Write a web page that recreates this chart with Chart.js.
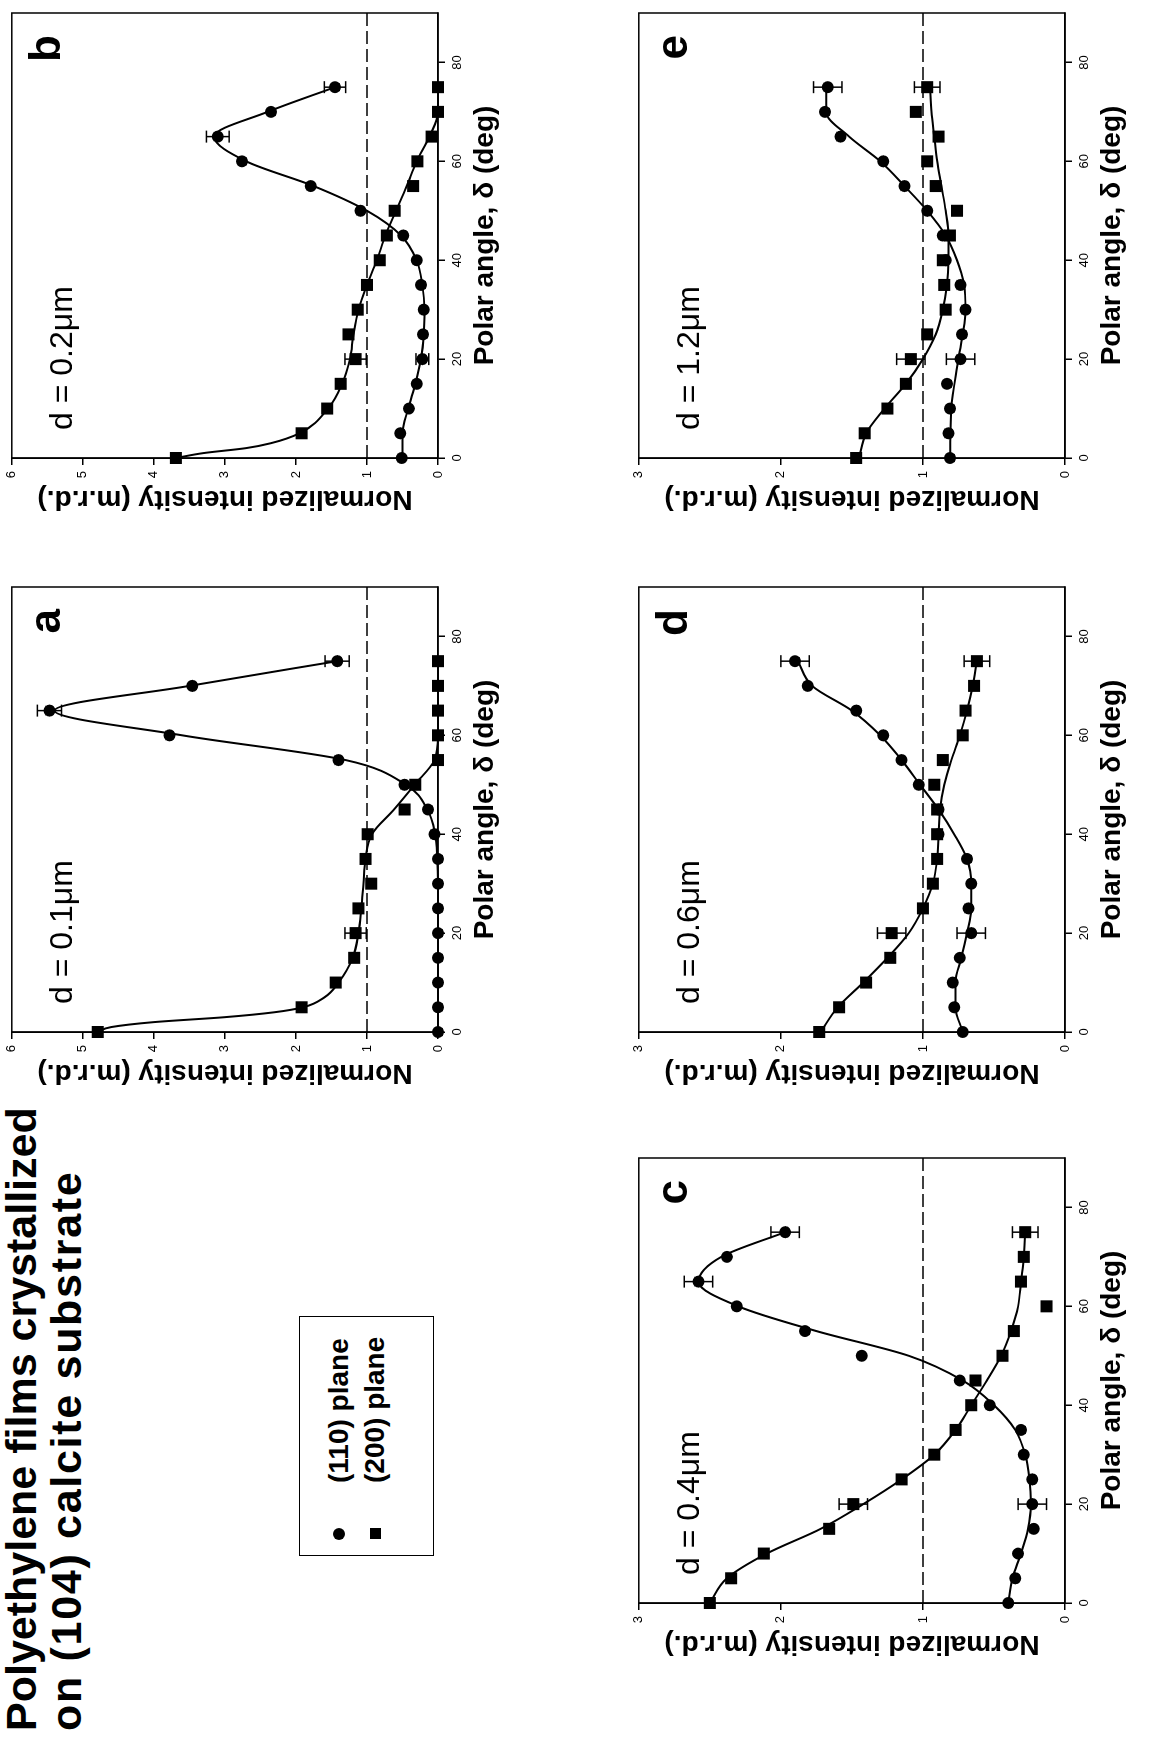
<!DOCTYPE html>
<html>
<head>
<meta charset="utf-8">
<script src="https://cdn.jsdelivr.net/npm/chart.js@4.4.0/dist/chart.umd.min.js"></script>
<style>
body { margin: 0; background: #fff; width: 1156px; height: 1737px; overflow: hidden; }
#fig { position: absolute; left: 0; top: 0; width: 1737px; height: 1156px; background: #fff;
       transform-origin: 0 0; transform: translate(0px, 1737px) rotate(-90deg);
       font-family: "Liberation Sans", Arial, sans-serif; color: #000; }
#titulo { position: absolute; left: 6px; top: -1px; font-size: 43px; font-weight: bold; line-height: 45px; white-space: nowrap; }
#titulo .l2 { letter-spacing: 1.7px; }
#legenda { position: absolute; left: 181px; top: 299px; width: 238px; height: 133px; border: 1.5px solid #000; }
#legenda .item { position: absolute; left: 72px; font-size: 28px; font-weight: bold; line-height: 30px; white-space: nowrap; }
#legenda .bola { position: absolute; left: 15px; width: 12px; height: 12px; border-radius: 50%; background: #000; }
#legenda .quad { position: absolute; left: 16px; width: 11px; height: 11px; background: #000; }
canvas { position: absolute; }
</style>
</head>
<body>
<div id="fig">
  <div id="titulo">Polyethylene films crystallized<br><span class="l2">on (104) calcite substrate</span></div>
  <div id="legenda">
    <span class="bola" style="top:33px"></span><div class="item" style="top:24px">(110) plane</div>
    <span class="quad" style="top:70px"></span><div class="item" style="top:60px">(200) plane</div>
  </div>
  <canvas id="gA" width="515" height="504" style="left:647px;top:-2px"></canvas>
  <canvas id="gB" width="515" height="504" style="left:1221px;top:-2px"></canvas>
  <canvas id="gC" width="515" height="504" style="left:76px;top:625px"></canvas>
  <canvas id="gD" width="515" height="504" style="left:647px;top:625px"></canvas>
  <canvas id="gE" width="515" height="504" style="left:1221px;top:625px"></canvas>
</div>
<script>
var fonte = '"Liberation Sans", Arial, sans-serif';

// polar angles of the measured points (deg)
var angles = [0, 5, 10, 15, 20, 25, 30, 35, 40, 45, 50, 55, 60, 65, 70, 75];
var xTicks = [0, 20, 40, 60, 80];
var refAngles = [0, 90];
var refLevel = [1, 1];

// a : d = 0.1 um
var a110 = [0, 0, 0, 0, 0, 0, 0, 0, 0.05, 0.14, 0.47, 1.40, 3.78, 5.47, 3.46, 1.42];
var a200 = [4.79, 1.92, 1.44, 1.18, 1.16, 1.12, 0.94, 1.02, 0.99, 0.47, 0.32, 0, 0, 0, 0, 0];
var a110Fit = [[0, 0], [10, 0], [20, 0], [30, 0], [35, 0.01], [40, 0.04], [45, 0.15], [50, 0.45], [55, 1.3], [60, 3.6], [65, 5.4], [70, 3.5], [75, 1.42]];
var a200Fit = [[0, 4.8], [1, 4.6], [2, 4.0], [3, 3.0], [4, 2.3], [5, 1.9], [7, 1.6], [10, 1.4], [15, 1.2], [20, 1.12], [25, 1.08], [30, 1.05], [35, 1.02], [40, 0.93], [45, 0.62], [50, 0.33], [55, 0.05], [60, 0], [75, 0]];
var aErr = [[65, 5.47, 0.17], [75, 1.42, 0.17], [20, 1.16, 0.15]];

// b : d = 0.2 um
var b110 = [0.51, 0.53, 0.41, 0.30, 0.22, 0.21, 0.20, 0.24, 0.30, 0.49, 1.09, 1.79, 2.76, 3.10, 2.35, 1.45];
var b200 = [3.69, 1.92, 1.56, 1.37, 1.16, 1.26, 1.13, 1.00, 0.82, 0.72, 0.61, 0.35, 0.29, 0.09, 0, 0];
var b110Fit = [[0, 0.5], [5, 0.5], [10, 0.42], [15, 0.32], [20, 0.24], [25, 0.2], [30, 0.19], [35, 0.22], [40, 0.3], [45, 0.52], [50, 1.0], [55, 1.75], [60, 2.7], [65, 3.15], [70, 2.4], [75, 1.45]];
var b200Fit = [[0, 3.69], [1, 3.3], [2, 2.7], [3, 2.35], [5, 1.95], [10, 1.55], [15, 1.35], [20, 1.24], [25, 1.19], [30, 1.12], [35, 1.0], [40, 0.86], [45, 0.74], [50, 0.59], [55, 0.44], [60, 0.3], [65, 0.12], [70, 0], [75, 0]];
var bErr = [[20, 0.22, 0.09], [65, 3.10, 0.16], [75, 1.45, 0.15], [20, 1.16, 0.15]];

// c : d = 0.4 um
var c110 = [0.40, 0.35, 0.33, 0.22, 0.23, 0.23, 0.29, 0.31, 0.53, 0.74, 1.43, 1.83, 2.31, 2.58, 2.38, 1.97];
var c200 = [2.50, 2.35, 2.12, 1.66, 1.49, 1.15, 0.92, 0.77, 0.66, 0.63, 0.44, 0.36, 0.13, 0.31, 0.29, 0.28];
var c110Fit = [[0, 0.4], [5, 0.37], [10, 0.31], [15, 0.26], [20, 0.24], [25, 0.25], [30, 0.28], [35, 0.35], [40, 0.5], [45, 0.72], [50, 1.1], [55, 1.75], [60, 2.3], [65, 2.58], [70, 2.42], [75, 1.97]];
var c200Fit = [[0, 2.5], [5, 2.38], [10, 2.1], [15, 1.72], [20, 1.42], [25, 1.15], [30, 0.92], [35, 0.77], [40, 0.66], [45, 0.55], [50, 0.45], [55, 0.38], [60, 0.33], [65, 0.31], [70, 0.29], [75, 0.28]];
var cErr = [[20, 0.23, 0.1], [65, 2.58, 0.1], [75, 1.97, 0.1], [20, 1.49, 0.1], [75, 0.28, 0.09]];

// d : d = 0.6 um
var d110 = [0.72, 0.78, 0.79, 0.74, 0.66, 0.68, 0.66, 0.69, 0.89, 0.89, 1.03, 1.15, 1.28, 1.47, 1.81, 1.90];
var d200 = [1.73, 1.59, 1.40, 1.23, 1.22, 1.00, 0.93, 0.90, 0.90, 0.90, 0.92, 0.86, 0.72, 0.70, 0.64, 0.62];
var d110Fit = [[0, 0.72], [5, 0.77], [10, 0.77], [15, 0.73], [20, 0.69], [25, 0.66], [30, 0.66], [35, 0.69], [40, 0.78], [45, 0.89], [50, 1.02], [55, 1.15], [60, 1.3], [65, 1.5], [70, 1.78], [75, 1.88]];
var d200Fit = [[0, 1.72], [5, 1.6], [10, 1.42], [15, 1.25], [20, 1.1], [25, 1.0], [30, 0.93], [35, 0.9], [40, 0.89], [45, 0.88], [50, 0.85], [55, 0.8], [60, 0.74], [65, 0.69], [70, 0.65], [75, 0.62]];
var dErr = [[20, 0.66, 0.1], [75, 1.90, 0.1], [20, 1.22, 0.1], [75, 0.62, 0.09]];

// e : d = 1.2 um
var e110 = [0.81, 0.82, 0.81, 0.83, 0.735, 0.725, 0.70, 0.735, 0.84, 0.86, 0.97, 1.13, 1.28, 1.58, 1.69, 1.67];
var e200 = [1.47, 1.41, 1.25, 1.12, 1.085, 0.97, 0.84, 0.85, 0.86, 0.81, 0.76, 0.91, 0.97, 0.89, 1.05, 0.97];
var e110Fit = [[0, 0.81], [10, 0.8], [20, 0.75], [30, 0.7], [35, 0.71], [40, 0.76], [45, 0.84], [50, 0.97], [55, 1.13], [60, 1.3], [65, 1.52], [70, 1.68], [75, 1.68]];
var e200Fit = [[0, 1.45], [5, 1.4], [10, 1.27], [15, 1.12], [20, 1.0], [25, 0.91], [30, 0.86], [35, 0.83], [40, 0.82], [45, 0.82], [50, 0.84], [55, 0.87], [60, 0.9], [65, 0.92], [70, 0.94], [75, 0.95]];
var eErr = [[20, 0.735, 0.1], [75, 1.67, 0.1], [20, 1.085, 0.1], [75, 0.97, 0.09]];

function pontos(ys) {
    return angles.map(function (a, i) { return {x: a, y: ys[i]}; });
}

function pares(lista) {
    return lista.map(function (p) { return {x: p[0], y: p[1]}; });
}

// frame around the plot area
var moldura = {
    id: 'moldura',
    beforeDatasetsDraw: function (chart) {
        var c = chart.chartArea, ctx = chart.ctx;
        ctx.save();
        ctx.strokeStyle = '#000';
        ctx.lineWidth = 1.5;
        ctx.strokeRect(c.left, c.top, c.right - c.left, c.bottom - c.top);
        ctx.restore();
    }
};

// panel letter and film thickness
var textoPainel = {
    id: 'textoPainel',
    afterDraw: function (chart, args, opts) {
        var c = chart.chartArea, ctx = chart.ctx;
        ctx.save();
        ctx.fillStyle = '#000';
        ctx.textBaseline = 'alphabetic';
        ctx.textAlign = 'left';
        ctx.font = '32px ' + fonte;
        ctx.fillText(opts.nota, c.left + 28, c.top + 60);
        ctx.textAlign = 'right';
        ctx.font = 'bold 44px ' + fonte;
        ctx.fillText(opts.letra, c.right - 22, c.top + 48);
        ctx.restore();
    }
};

function montaGrafico(id, yMax, s110, s200, fit110, fit200, erros, letra, nota) {
    var linha = {borderColor: '#000', borderWidth: 2, pointRadius: 0, showLine: true,
                 cubicInterpolationMode: 'monotone', clip: false};
    var datasets = [
        Object.assign({data: pares(fit110)}, linha),
        Object.assign({data: pares(fit200)}, linha),
        {data: refAngles.map(function (a, i) { return {x: a, y: refLevel[i]}; }),
         borderColor: '#000', borderWidth: 1.5, borderDash: [13, 5], pointRadius: 0, showLine: true},
        {data: pontos(s110), showLine: false, pointStyle: 'circle', pointRadius: 6,
         pointBackgroundColor: '#000', pointBorderWidth: 0, clip: false},
        {data: pontos(s200), showLine: false, pointStyle: 'rect', pointRadius: 8.5,
         pointBackgroundColor: '#000', pointBorderWidth: 0, clip: false}
    ];
    erros.forEach(function (e) {
        datasets.push({data: [{x: e[0], y: e[1] - e[2]}, {x: e[0], y: e[1] + e[2]}],
                       showLine: true, borderColor: '#000', borderWidth: 1.5,
                       pointStyle: 'line', pointRadius: 6, pointBorderColor: '#000',
                       pointBorderWidth: 1.5, clip: false});
    });

    return new Chart(document.getElementById(id).getContext('2d'), {
        type: 'line',
        data: {datasets: datasets},
        plugins: [moldura, textoPainel],
        options: {
            responsive: false,
            animation: false,
            devicePixelRatio: 1,
            events: [],
            layout: {padding: {left: 0, right: 12, top: 10, bottom: 0}},
            plugins: {
                legend: {display: false},
                tooltip: {enabled: false},
                textoPainel: {letra: letra, nota: nota}
            },
            scales: {
                x: {
                    type: 'linear', min: 0, max: 90,
                    afterBuildTicks: function (s) {
                        s.ticks = xTicks.map(function (v) { return {value: v}; });
                    },
                    afterFit: function (s) { s.height = 64; },
                    ticks: {color: '#000', font: {size: 13, family: fonte}, padding: 5, maxRotation: 0},
                    grid: {drawOnChartArea: false, drawTicks: true, tickLength: 7, color: '#000', lineWidth: 1.5},
                    border: {display: true, color: '#000', width: 1.5},
                    title: {display: true, text: 'Polar angle, δ (deg)', color: '#000', padding: 0,
                            font: {size: 28, weight: 'bold', family: fonte}}
                },
                y: {
                    type: 'linear', min: 0, max: yMax,
                    afterFit: function (s) { s.width = 58; },
                    ticks: {stepSize: 1, color: '#000', font: {size: 13, family: fonte}, padding: 6},
                    grid: {drawOnChartArea: false, drawTicks: true, tickLength: 7, color: '#000', lineWidth: 1.5},
                    border: {display: true, color: '#000', width: 1.5},
                    title: {display: true, text: 'Normalized intensity (m.r.d.)', color: '#000', padding: 0,
                            font: {size: 28, weight: 'bold', family: fonte}}
                }
            }
        }
    });
}

montaGrafico('gA', 6, a110, a200, a110Fit, a200Fit, aErr, 'a', 'd = 0.1μm');
montaGrafico('gB', 6, b110, b200, b110Fit, b200Fit, bErr, 'b', 'd = 0.2μm');
montaGrafico('gC', 3, c110, c200, c110Fit, c200Fit, cErr, 'c', 'd = 0.4μm');
montaGrafico('gD', 3, d110, d200, d110Fit, d200Fit, dErr, 'd', 'd = 0.6μm');
montaGrafico('gE', 3, e110, e200, e110Fit, e200Fit, eErr, 'e', 'd = 1.2μm');
</script>
</body>
</html>
